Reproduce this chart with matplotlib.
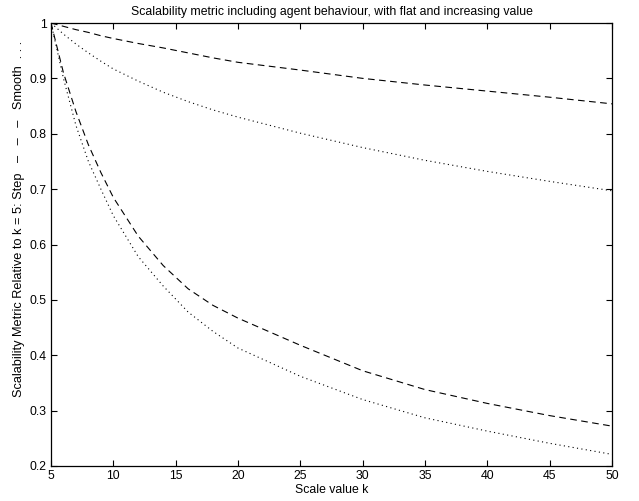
import numpy as np
import matplotlib
matplotlib.use("Agg")
import matplotlib.pyplot as plt

plt.rcParams['font.family'] = ['Liberation Sans', 'DejaVu Sans']

k = [5, 6, 7, 8, 9, 10, 12, 14, 16, 18, 20, 25, 30, 35, 40, 45, 50]

# flat value curves
step_flat = [1.0, 0.994, 0.988, 0.983, 0.977, 0.972, 0.963, 0.955, 0.946, 0.937,
             0.929, 0.915, 0.900, 0.888, 0.877, 0.866, 0.854]
smooth_flat = [1.0, 0.98, 0.962, 0.946, 0.931, 0.917, 0.895, 0.875, 0.858, 0.843,
               0.830, 0.801, 0.775, 0.752, 0.732, 0.714, 0.697]

# increasing value curves
step_incr = [1.0, 0.91, 0.84, 0.78, 0.73, 0.685, 0.615, 0.562, 0.52, 0.49,
             0.467, 0.418, 0.372, 0.338, 0.313, 0.291, 0.272]
smooth_incr = [1.0, 0.90, 0.815, 0.75, 0.70, 0.652, 0.578, 0.525, 0.478, 0.443,
               0.413, 0.362, 0.320, 0.287, 0.263, 0.241, 0.221]

xticks = [5, 10, 15, 20, 25, 30, 35, 40, 45, 50]
yticks = [0.2, 0.3, 0.4, 0.5, 0.6, 0.7, 0.8, 0.9, 1.0]

fig = plt.figure(figsize=(6.39, 5.01), dpi=100)
ax = fig.add_axes([51 / 639, 1 - 466 / 501, 561 / 639, 443 / 501])

lw = 0.8
ax.plot(k, step_flat, color="black", linestyle=(0, (6, 4)), linewidth=lw)
ax.plot(k, smooth_flat, color="black", linestyle=(0, (1, 3)), linewidth=lw)
ax.plot(k, step_incr, color="black", linestyle=(0, (6, 4)), linewidth=lw)
ax.plot(k, smooth_incr, color="black", linestyle=(0, (1, 3)), linewidth=lw)

ax.set_xlim(5, 50)
ax.set_ylim(0.2, 1.0)
ax.set_xticks(xticks)
ax.set_xticklabels([str(t) for t in xticks])
ax.set_yticks(yticks)
ax.set_yticklabels(["%g" % t for t in yticks])
ax.tick_params(direction="in", top=True, right=True, length=4, width=0.8,
               labelsize=8.8, pad=3)
for s in ax.spines.values():
    s.set_linewidth(0.9)

ax.set_title("Scalability metric including agent behaviour, with flat and increasing value",
             fontsize=8.8, pad=6)
ax.set_xlabel("Scale value k", fontsize=8.8, labelpad=1)
ax.set_ylabel("Scalability Metric Relative to k = 5: Step   \u2013   \u2013   \u2013   Smooth  . . .",
              fontsize=9.2)
ax.yaxis.set_label_coords(-0.046, 0.557)

fig.savefig("out.png", dpi=100)
